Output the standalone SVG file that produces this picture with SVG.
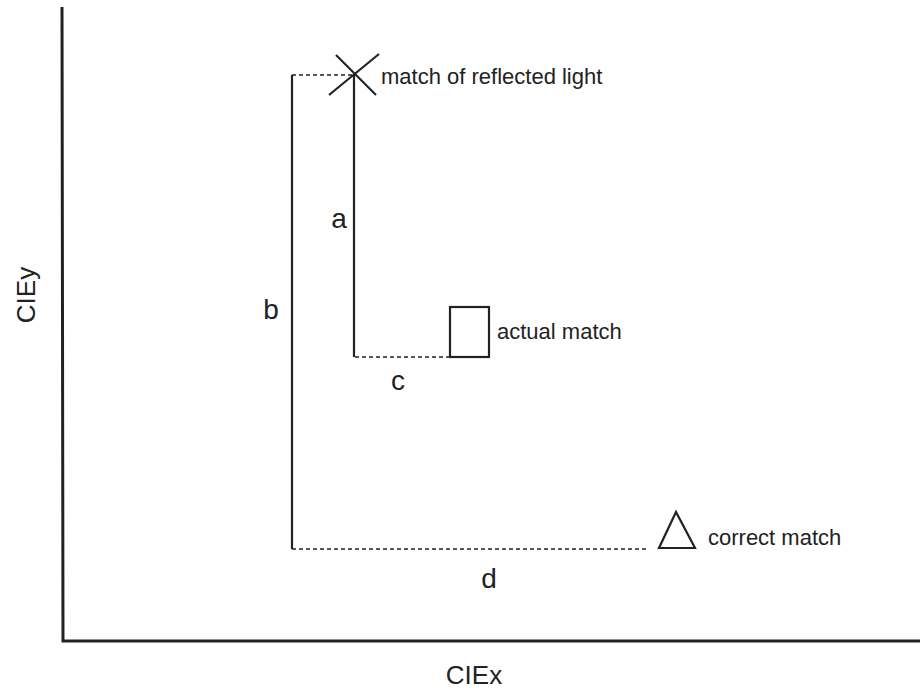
<svg xmlns="http://www.w3.org/2000/svg" width="920" height="690" viewBox="0 0 920 690">
<style>
.ax{stroke:#222;stroke-width:3;fill:none}
.ln{stroke:#222;stroke-width:2.2;fill:none}
.dash{stroke:#222;stroke-width:1.3;stroke-dasharray:4 3;fill:none}
.lbl{font-family:"Liberation Sans",Arial,sans-serif;fill:#222;font-size:22px}
.big{font-family:"Liberation Sans",Arial,sans-serif;fill:#222;font-size:28px;text-anchor:middle}
.axl{font-family:"Liberation Sans",Arial,sans-serif;fill:#222;font-size:26px;text-anchor:middle}
</style>
<rect width="920" height="690" fill="#fff"/>
<g id="axes">
<polyline class="ax" points="62,7 63,641 920,641"/>
<text class="axl" x="474" y="684">CIEx</text>
<text class="axl" transform="translate(35,295) rotate(-90)">CIEy</text>
</g>
<g id="connectors">
<line class="ln" x1="354" y1="74" x2="354" y2="357"/>
<line class="ln" x1="292" y1="75" x2="292" y2="549"/>
<line class="dash" x1="292" y1="75" x2="352" y2="75"/>
<line class="dash" x1="355" y1="357" x2="450" y2="357"/>
<line class="dash" x1="292" y1="549" x2="648" y2="549"/>
<text class="big" x="339" y="228">a</text>
<text class="big" x="271" y="319">b</text>
<text class="big" x="398" y="390">c</text>
<text class="big" x="489" y="588">d</text>
</g>
<g id="reflected">
<line class="ln" x1="329" y1="95" x2="379" y2="54"/>
<line class="ln" x1="336" y1="55" x2="376" y2="95"/>
<text class="lbl" x="381" y="84">match of reflected light</text>
</g>
<g id="actual">
<rect class="ln" x="450" y="307" width="39" height="50"/>
<text class="lbl" x="497" y="339">actual match</text>
</g>
<g id="correct">
<polygon class="ln" points="676,512 659,548 695,548"/>
<text class="lbl" x="708" y="545">correct match</text>
</g>
</svg>
